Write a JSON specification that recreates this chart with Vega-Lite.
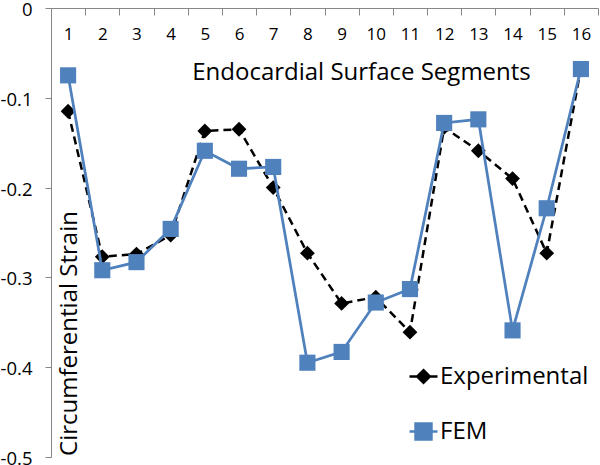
{
  "$schema": "https://vega.github.io/schema/vega-lite/v6.json",
  "autosize": {"type": "none"},
  "padding": {"left": 51, "top": 8, "right": 2, "bottom": 8},
  "width": 547,
  "height": 449,
  "background": "white",
  "config": {"view": {"stroke": null}, "font": "Open Sans"},
  "data": {"values": [
    {"seg": 1, "series": "Experimental", "v": -0.115},
    {"seg": 2, "series": "Experimental", "v": -0.277},
    {"seg": 3, "series": "Experimental", "v": -0.274},
    {"seg": 4, "series": "Experimental", "v": -0.253},
    {"seg": 5, "series": "Experimental", "v": -0.137},
    {"seg": 6, "series": "Experimental", "v": -0.135},
    {"seg": 7, "series": "Experimental", "v": -0.2},
    {"seg": 8, "series": "Experimental", "v": -0.273},
    {"seg": 9, "series": "Experimental", "v": -0.329},
    {"seg": 10, "series": "Experimental", "v": -0.322},
    {"seg": 11, "series": "Experimental", "v": -0.361},
    {"seg": 12, "series": "Experimental", "v": -0.133},
    {"seg": 13, "series": "Experimental", "v": -0.159},
    {"seg": 14, "series": "Experimental", "v": -0.19},
    {"seg": 15, "series": "Experimental", "v": -0.273},
    {"seg": 16, "series": "Experimental", "v": -0.067},
    {"seg": 1, "series": "FEM", "v": -0.075},
    {"seg": 2, "series": "FEM", "v": -0.292},
    {"seg": 3, "series": "FEM", "v": -0.283},
    {"seg": 4, "series": "FEM", "v": -0.246},
    {"seg": 5, "series": "FEM", "v": -0.159},
    {"seg": 6, "series": "FEM", "v": -0.179},
    {"seg": 7, "series": "FEM", "v": -0.177},
    {"seg": 8, "series": "FEM", "v": -0.395},
    {"seg": 9, "series": "FEM", "v": -0.383},
    {"seg": 10, "series": "FEM", "v": -0.328},
    {"seg": 11, "series": "FEM", "v": -0.313},
    {"seg": 12, "series": "FEM", "v": -0.128},
    {"seg": 13, "series": "FEM", "v": -0.124},
    {"seg": 14, "series": "FEM", "v": -0.359},
    {"seg": 15, "series": "FEM", "v": -0.223},
    {"seg": 16, "series": "FEM", "v": -0.068}
  ]},
  "encoding": {
    "x": {
      "field": "seg", "type": "ordinal",
      "scale": {"type": "band", "paddingInner": 0, "paddingOuter": 0},
      "axis": {
        "orient": "bottom", "offset": -449, "tickBand": "extent", "tickSize": 7,
        "labelPadding": 11, "labelFontSize": 17, "labelAngle": 0, "labelColor": "black",
        "labelFont": "Open Sans",
        "domainColor": "#868686", "tickColor": "#868686", "domainWidth": 1, "tickWidth": 1,
        "title": "Endocardial Surface Segments", "titleX": 310, "titleY": 71,
        "titleBaseline": "alphabetic", "titleAlign": "center", "titleAngle": 0,
        "titleFontSize": 24, "titleFontWeight": "normal", "titleColor": "black", "titleFont": "Open Sans"
      }
    },
    "y": {
      "field": "v", "type": "quantitative",
      "scale": {"domain": [-0.5, 0], "nice": false, "zero": false},
      "axis": {
        "orient": "left", "values": [-0.5, -0.4, -0.3, -0.2, -0.1, 0],
        "labelExpr": "'' + datum.value", "grid": false,
        "tickSize": 6, "labelPadding": 13, "labelFontSize": 18.5, "labelColor": "black",
        "labelFont": "Open Sans", "labelOffset": 1.5,
        "domainColor": "#868686", "tickColor": "#868686",
        "title": "Circumferential Strain", "titleX": 25, "titleY": 325,
        "titleAngle": 270, "titleBaseline": "alphabetic", "titleAlign": "center",
        "titleFontSize": 24, "titleFontWeight": "normal", "titleColor": "black", "titleFont": "Open Sans"
      }
    }
  },
  "layer": [
    {
      "transform": [{"filter": "datum.series === 'Experimental'"}],
      "mark": {"type": "line", "strokeWidth": 2.5, "strokeDash": [8, 5], "color": "black"},
      "encoding": {}
    },
    {
      "transform": [{"filter": "datum.series === 'Experimental'"}],
      "mark": {"type": "point", "filled": true, "opacity": 1, "shape": "diamond", "size": 220},
      "encoding": {
        "color": {
          "field": "series", "type": "nominal",
          "scale": {"domain": ["Experimental", "FEM"], "range": ["black", "#4F81BD"]},
          "legend": {
            "orient": "none", "legendX": 357, "legendY": 353, "title": null,
            "symbolSize": 784, "symbolOpacity": 1,
            "labelFont": "Open Sans", "labelFontSize": 24, "labelColor": "black",
            "labelOffset": 1, "rowPadding": 27, "padding": 0,
            "encode": {
              "symbols": {
                "update": {
                  "shape": {"signal": "datum.value === 'FEM' ? 'M-1,0H1M-0.57,-0.57H0.57V0.57H-0.57Z' : 'M-1,0H1M0,-0.45L0.45,0L0,0.45L-0.45,0Z'"},
                  "stroke": {"signal": "datum.value === 'FEM' ? '#4F81BD' : 'black'"},
                  "fill": {"signal": "datum.value === 'FEM' ? '#4F81BD' : 'black'"},
                  "strokeWidth": {"value": 2.5},
                  "size": {"value": 784},
                  "opacity": {"value": 1}
                }
              }
            }
          }
        }
      }
    },
    {
      "transform": [{"filter": "datum.series === 'FEM'"}],
      "mark": {"type": "line", "strokeWidth": 2.75, "color": "#4F81BD"},
      "encoding": {}
    },
    {
      "transform": [{"filter": "datum.series === 'FEM'"}],
      "mark": {"type": "point", "filled": true, "opacity": 1, "shape": "square", "size": 260},
      "encoding": {
        "color": {
          "field": "series", "type": "nominal",
          "scale": {"domain": ["Experimental", "FEM"], "range": ["black", "#4F81BD"]},
          "legend": {
            "orient": "none", "legendX": 357, "legendY": 353, "title": null,
            "symbolSize": 784, "symbolOpacity": 1,
            "labelFont": "Open Sans", "labelFontSize": 24, "labelColor": "black",
            "labelOffset": 1, "rowPadding": 27, "padding": 0,
            "encode": {
              "symbols": {
                "update": {
                  "shape": {"signal": "datum.value === 'FEM' ? 'M-1,0H1M-0.57,-0.57H0.57V0.57H-0.57Z' : 'M-1,0H1M0,-0.45L0.45,0L0,0.45L-0.45,0Z'"},
                  "stroke": {"signal": "datum.value === 'FEM' ? '#4F81BD' : 'black'"},
                  "fill": {"signal": "datum.value === 'FEM' ? '#4F81BD' : 'black'"},
                  "strokeWidth": {"value": 2.5},
                  "size": {"value": 784},
                  "opacity": {"value": 1}
                }
              }
            }
          }
        }
      }
    }
  ]
}
